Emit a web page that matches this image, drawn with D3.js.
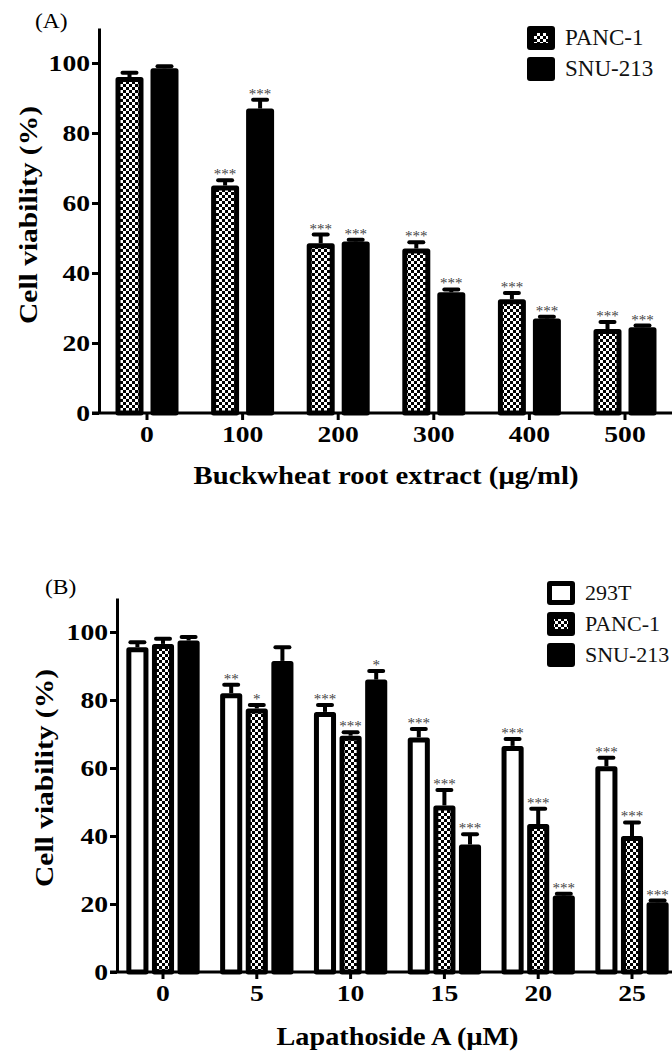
<!DOCTYPE html>
<html>
<head>
<meta charset="utf-8">
<script src="https://cdn.jsdelivr.net/npm/d3@7"></script>
<style>
  body { margin: 0; background: #fff; }
  text { font-family: "Liberation Serif", "Times New Roman", serif; }
</style>
</head>
<body>
<div id="chart"></div>
<script>
// ---- data, panel A (buckwheat root extract) ----
const groupsA = ['0', '100', '200', '300', '400', '500'];
const panc1A = [96, 65, 48.5, 47, 32.5, 24];
const panc1ErrA = [1.2, 1.5, 2.5, 1.8, 1.8, 2];
const panc1SigA = ['', '***', '***', '***', '***', '***'];
const snu213A = [98.5, 87, 49, 34.5, 27, 24.5];
const snu213ErrA = [0.6, 2.5, 0.5, 0.8, 0.5, 0.5];
const snu213SigA = ['', '***', '***', '***', '***', '***'];

// ---- data, panel B (lapathoside A) ----
const groupsB = ['0', '5', '10', '15', '20', '25'];
const t293B = [95.5, 82, 76.5, 69, 66.5, 60.5];
const t293ErrB = [1.5, 2.5, 2, 2.5, 2, 2.5];
const t293SigB = ['', '**', '***', '***', '***', '***'];
const panc1B = [96.5, 77.5, 69.5, 49, 43.5, 40];
const panc1ErrB = [1.5, 1, 1, 4.5, 4.5, 4];
const panc1SigB = ['', '*', '***', '***', '***', '***'];
const snu213B = [97.5, 91.5, 86, 37.5, 22.5, 20.5];
const snu213ErrB = [1, 4, 2.5, 3, 0.5, 0.5];
const snu213SigB = ['', '', '*', '***', '***', '***'];

const yTicks = [0, 20, 40, 60, 80, 100];

// ---- canvas ----
const W = 672, H = 1052;
const svg = d3.select('#chart').append('svg')
  .attr('width', W).attr('height', H);

const defs = svg.append('defs');
const pat = defs.append('pattern')
  .attr('id', 'checker')
  .attr('patternUnits', 'userSpaceOnUse')
  .attr('width', 6).attr('height', 6);
pat.append('rect').attr('width', 6).attr('height', 6).attr('fill', '#000');
pat.append('rect').attr('width', 3).attr('height', 3).attr('fill', '#fff');
pat.append('rect').attr('x', 3).attr('y', 3).attr('width', 3).attr('height', 3).attr('fill', '#fff');

// stretch a text horizontally (the source figure is a bit wide)
function stretch(sel, k) {
  sel.each(function () {
    const w = this.getComputedTextLength();
    d3.select(this).attr('textLength', w * k).attr('lengthAdjust', 'spacingAndGlyphs');
  });
}

function drawPanel(p) {
  const g = svg.append('g');

  const y = d3.scaleLinear()
    .domain([0, 110])
    .range([p.yZero, p.yZero - 110 * p.pxPerUnit]);

  const step = (p.lastCenter - p.firstCenter) / (p.groups.length - 1);
  const x0 = d3.scaleBand()
    .domain(p.groups)
    .range([p.firstCenter - step / 2, p.lastCenter + step / 2]);
  const x1 = d3.scaleBand()
    .domain(p.series.map(s => s.name))
    .range([0, x0.bandwidth()])
    .paddingInner(p.padIn)
    .paddingOuter(p.padOut);
  const bw = x1.bandwidth();
  const sw = 5;

  // bars
  p.series.forEach(s => {
    const sg = g.append('g');
    const rows = p.groups.map((k, i) => ({ k: k, v: s.values[i], e: s.errs[i], sig: s.sigs[i] }));
    const cx = d => x0(d.k) + x1(s.name) + bw / 2;

    sg.selectAll('rect.bar')
      .data(rows)
      .enter()
      .append('rect')
      .attr('class', 'bar')
      .attr('x', d => x0(d.k) + x1(s.name) + sw / 2)
      .attr('y', d => y(d.v) + sw / 2)
      .attr('width', bw - sw)
      .attr('height', d => y(0) - y(d.v) - sw / 2)
      .attr('fill', s.fill)
      .attr('stroke', '#000')
      .attr('stroke-width', sw)
      .attr('stroke-linejoin', 'round');

    // error bars, upper half only
    sg.selectAll('line.err')
      .data(rows)
      .enter()
      .append('line')
      .attr('x1', cx).attr('x2', cx)
      .attr('y1', d => y(d.v))
      .attr('y2', d => y(d.v + d.e))
      .attr('stroke', '#000')
      .attr('stroke-width', 4);
    sg.selectAll('line.cap')
      .data(rows)
      .enter()
      .append('line')
      .attr('x1', d => cx(d) - 7)
      .attr('x2', d => cx(d) + 7)
      .attr('y1', d => y(d.v + d.e))
      .attr('y2', d => y(d.v + d.e))
      .attr('stroke', '#000')
      .attr('stroke-width', 4)
      .attr('stroke-linecap', 'round');

    sg.selectAll('text.sig')
      .data(rows.filter(d => d.sig))
      .enter()
      .append('text')
      .attr('x', cx)
      .attr('y', d => y(d.v + d.e) - 1)
      .attr('text-anchor', 'middle')
      .attr('font-size', 15)
      .attr('fill', '#444')
      .text(d => d.sig);
  });

  // y axis
  const yAxis = d3.axisLeft(y)
    .tickValues(yTicks)
    .tickSize(7)
    .tickSizeOuter(0)
    .tickPadding(2);
  const ya = g.append('g')
    .attr('transform', 'translate(' + p.axisX + ',0)')
    .call(yAxis);
  ya.select('.domain').attr('stroke-width', 3);
  ya.selectAll('.tick line').attr('stroke-width', 3);
  ya.selectAll('.tick text')
    .attr('font-weight', 'bold')
    .attr('font-size', 23)
    .attr('fill', '#000')
    .call(stretch, 1.2);

  // x axis
  g.append('line')
    .attr('x1', p.axisX - 7).attr('x2', W)
    .attr('y1', y(0)).attr('y2', y(0))
    .attr('stroke', '#000').attr('stroke-width', 3);
  const xAxis = d3.axisBottom(x0)
    .tickSize(7)
    .tickSizeOuter(0)
    .tickPadding(6);
  const xa = g.append('g')
    .attr('transform', 'translate(0,' + y(0) + ')')
    .call(xAxis);
  xa.select('.domain').remove();
  xa.selectAll('.tick line').attr('stroke-width', 3);
  xa.selectAll('.tick text')
    .attr('font-weight', 'bold')
    .attr('font-size', 23)
    .attr('fill', '#000')
    .call(stretch, 1.2);

  // titles
  g.append('text')
    .attr('x', (p.firstCenter + p.lastCenter) / 2)
    .attr('y', p.xTitleY)
    .attr('text-anchor', 'middle')
    .attr('font-weight', 'bold')
    .attr('font-size', 25)
    .attr('textLength', p.xTitleLen)
    .attr('lengthAdjust', 'spacingAndGlyphs')
    .text(p.xTitle);

  g.append('text')
    .attr('transform', 'translate(' + p.yTitleX + ',' + p.yTitleY + ') rotate(-90)')
    .attr('text-anchor', 'middle')
    .attr('font-weight', 'bold')
    .attr('font-size', 25)
    .attr('textLength', 218)
    .attr('lengthAdjust', 'spacingAndGlyphs')
    .text('Cell viability (%)');

  g.append('text')
    .attr('x', p.tagX).attr('y', p.tagY)
    .attr('font-size', 21)
    .text(p.tag)
    .call(stretch, 1.12);

  // legend: black swatch, with an inner window showing the fill
  const lg = g.append('g');
  p.series.forEach((s, i) => {
    const ly = p.legend.y[i];
    lg.append('rect')
      .attr('x', p.legend.x).attr('y', ly)
      .attr('width', 28).attr('height', 24)
      .attr('rx', 3)
      .attr('fill', '#000');
    if (s.legendInset) {
      lg.append('rect')
        .attr('x', p.legend.x + s.legendInset[0])
        .attr('y', ly + s.legendInset[1])
        .attr('width', 28 - 2 * s.legendInset[0])
        .attr('height', 24 - 2 * s.legendInset[1])
        .attr('fill', s.fill);
    }
    lg.append('text')
      .attr('x', p.legend.x + 38)
      .attr('y', ly + 19)
      .attr('font-size', p.legend.fontSize)
      .attr('fill', '#111')
      .text(s.name);
  });
}

drawPanel({
  tag: '(A)', tagX: 35, tagY: 28,
  groups: groupsA,
  series: [
    { name: 'PANC-1', values: panc1A, errs: panc1ErrA, sigs: panc1SigA, fill: 'url(#checker)', legendInset: [7, 7] },
    { name: 'SNU-213', values: snu213A, errs: snu213ErrA, sigs: snu213SigA, fill: '#000', legendInset: null }
  ],
  yZero: 413, pxPerUnit: 3.5,
  axisX: 99,
  firstCenter: 147, lastCenter: 625,
  padIn: 0.2, padOut: 0.466,
  xTitle: 'Buckwheat root extract (μg/ml)', xTitleY: 484, xTitleLen: 385,
  yTitleX: 37, yTitleY: 215,
  legend: { x: 527, y: [26, 57], fontSize: 23 }
});

drawPanel({
  tag: '(B)', tagX: 45, tagY: 594,
  groups: groupsB,
  series: [
    { name: '293T', values: t293B, errs: t293ErrB, sigs: t293SigB, fill: '#fff', legendInset: [5, 5] },
    { name: 'PANC-1', values: panc1B, errs: panc1ErrB, sigs: panc1SigB, fill: 'url(#checker)', legendInset: [7, 7] },
    { name: 'SNU-213', values: snu213B, errs: snu213ErrB, sigs: snu213SigB, fill: '#000', legendInset: null }
  ],
  yZero: 972, pxPerUnit: 3.4,
  axisX: 117,
  firstCenter: 163, lastCenter: 632,
  padIn: 0.137, padOut: 0.4,
  xTitle: 'Lapathoside A (μM)', xTitleY: 1045, xTitleLen: 242,
  yTitleX: 53, yTitleY: 778,
  legend: { x: 547, y: [581, 612, 643], fontSize: 22 }
});
</script>
</body>
</html>
